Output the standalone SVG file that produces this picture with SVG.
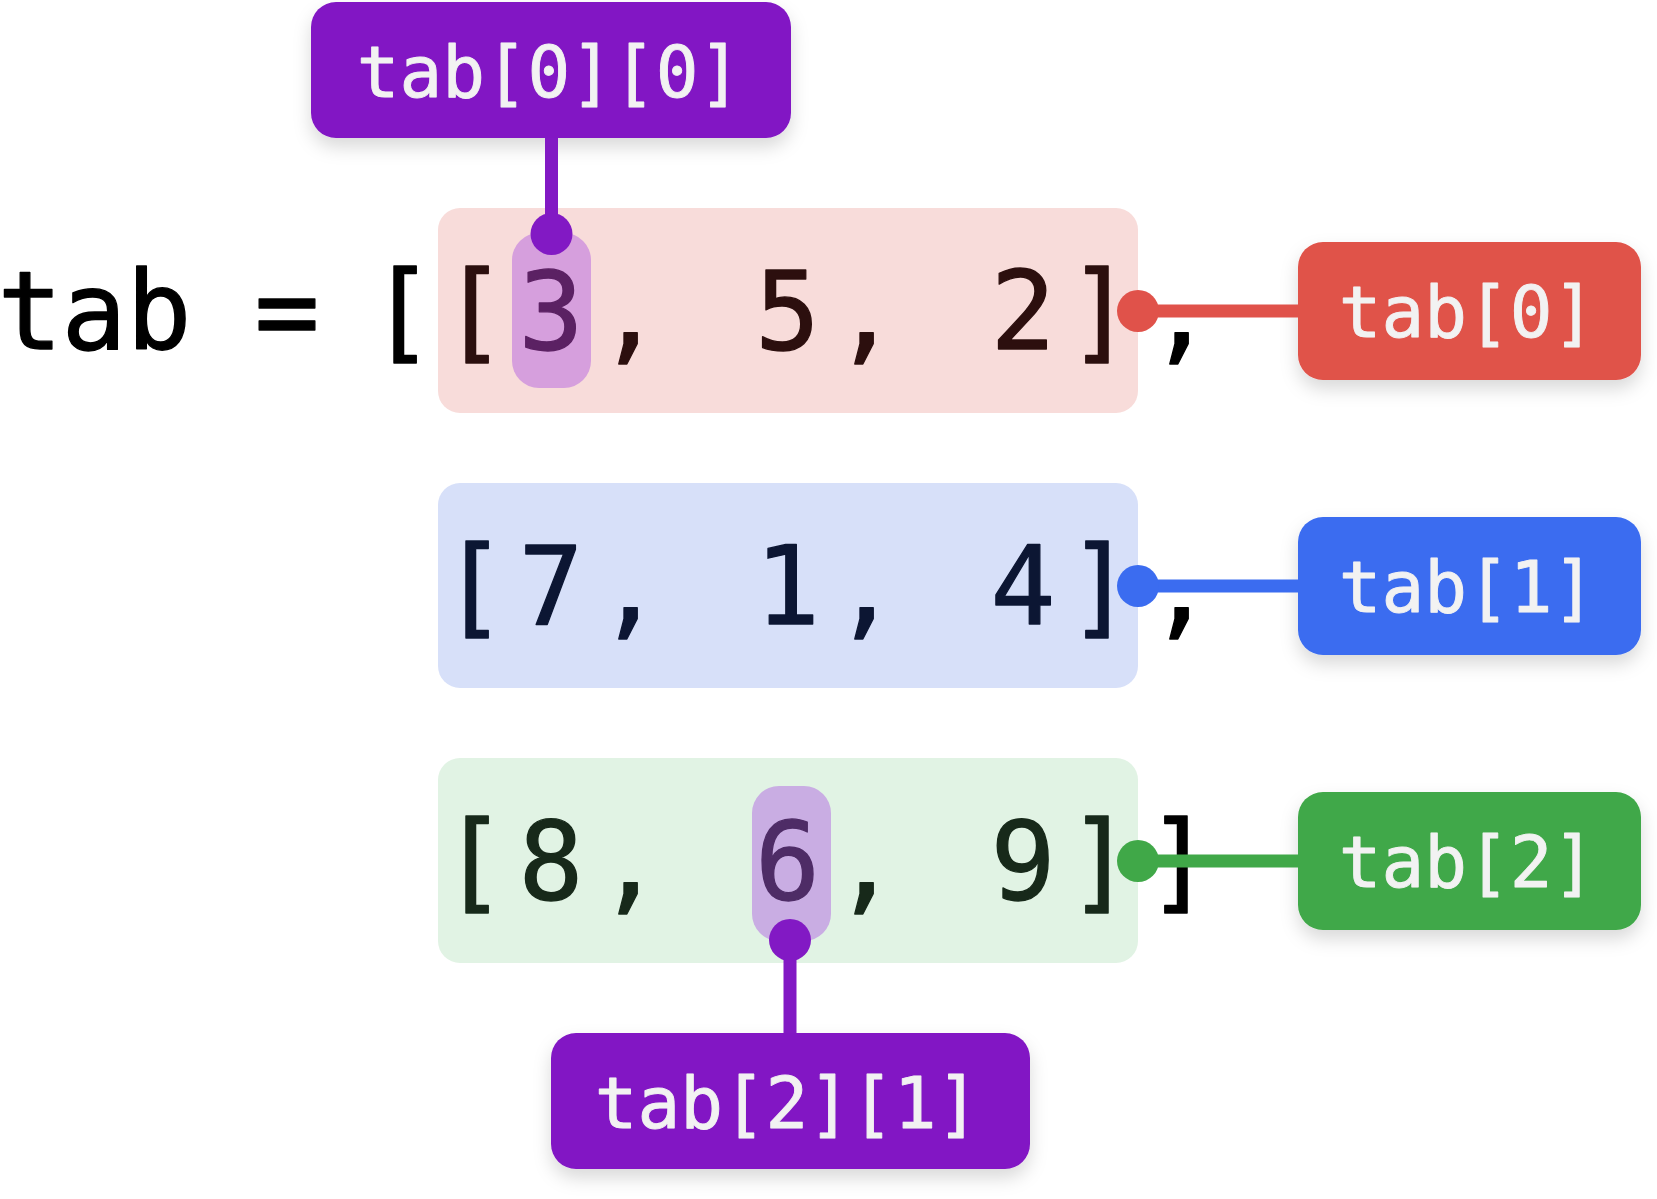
<svg xmlns="http://www.w3.org/2000/svg" width="1657" height="1199" viewBox="0 0 1657 1199">
  <defs>
    <filter id="shadow" x="-20%" y="-30%" width="140%" height="170%">
      <feDropShadow dx="0" dy="9" stdDeviation="9" flood-color="#000" flood-opacity="0.15"/>
    </filter>
    <style>
      .code { font-family: "DejaVu Sans Mono", "Liberation Mono", monospace; font-size: 108px; text-anchor: middle; stroke-width: 1.3px; stroke-linejoin: round; }
      .lbl { font-family: "DejaVu Sans Mono", "Liberation Mono", monospace; font-size: 71px; fill: #f2f2f2; stroke: #f2f2f2; stroke-width: 0.9px; stroke-linejoin: round; text-anchor: middle; }
      .outer { fill: #000; stroke: #000; }
      .r0 { fill: #2c0f0e; stroke: #2c0f0e; }
      .r1 { fill: #0c1633; stroke: #0c1633; }
      .r2 { fill: #17291a; stroke: #17291a; }
      .hl0 { fill: #5b2163; stroke: #5b2163; }
      .hl2 { fill: #4e2c66; stroke: #4e2c66; }
      .link { stroke-width: 13; fill: none; }
    </style>
  </defs>
  <rect width="1657" height="1199" fill="#ffffff"/>

  <!-- inner lists, one band per row -->
  <g id="row0">
    <rect x="438" y="208" width="700" height="205" rx="22" fill="#f8dcda"/>
    <rect x="512" y="233" width="79" height="155" rx="27" fill="#d69fdd"/>
    <text class="code r0" y="349"><tspan x="474">[</tspan><tspan x="551" class="hl0">3</tspan><tspan x="630">,</tspan><tspan x="787.5">5</tspan><tspan x="866">,</tspan><tspan x="1023">2</tspan><tspan x="1100">]</tspan></text>
  </g>
  <g id="row1">
    <rect x="438" y="483" width="700" height="205" rx="22" fill="#d7e0f9"/>
    <text class="code r1" y="624"><tspan x="474">[</tspan><tspan x="551">7</tspan><tspan x="630">,</tspan><tspan x="787.5">1</tspan><tspan x="866">,</tspan><tspan x="1023">4</tspan><tspan x="1100">]</tspan></text>
  </g>
  <g id="row2">
    <rect x="438" y="758" width="700" height="205" rx="22" fill="#e1f3e4"/>
    <rect x="752" y="786" width="79" height="155" rx="27" fill="#c9ade3"/>
    <text class="code r2" y="899"><tspan x="474">[</tspan><tspan x="551">8</tspan><tspan x="630">,</tspan><tspan x="787.5" class="hl2">6</tspan><tspan x="866">,</tspan><tspan x="1023">9</tspan><tspan x="1100">]</tspan></text>
  </g>

  <!-- outer list syntax -->
  <g id="outer">
    <text class="code outer" y="349"><tspan x="30">t</tspan><tspan x="94">a</tspan><tspan x="159">b</tspan><tspan x="287">=</tspan><tspan x="402">[</tspan></text>
    <text class="code outer" x="1181" y="349">,</text>
    <text class="code outer" x="1181" y="624">,</text>
    <text class="code outer" x="1179" y="899">]</text>
  </g>

  <!-- index labels -->
  <g id="label-00" filter="url(#shadow)">
    <rect x="311" y="2" width="480" height="136" rx="25" fill="#8219c4"/>
    <text class="lbl" x="549" y="97">tab[0][0]</text>
  </g>
  <g id="label-0" filter="url(#shadow)">
    <rect x="1298" y="242" width="343" height="138" rx="25" fill="#e0524a"/>
    <text class="lbl" x="1467" y="337">tab[0]</text>
  </g>
  <g id="label-1" filter="url(#shadow)">
    <rect x="1298" y="517" width="343" height="138" rx="25" fill="#3b6cf0"/>
    <text class="lbl" x="1467" y="612">tab[1]</text>
  </g>
  <g id="label-2" filter="url(#shadow)">
    <rect x="1298" y="792" width="343" height="138" rx="25" fill="#40a848"/>
    <text class="lbl" x="1467" y="887">tab[2]</text>
  </g>
  <g id="label-21" filter="url(#shadow)">
    <rect x="551" y="1033" width="479" height="136" rx="25" fill="#8219c4"/>
    <text class="lbl" x="787" y="1128">tab[2][1]</text>
  </g>

  <!-- connectors: dot on the element, line to its label -->
  <g id="connectors">
    <line class="link" x1="551.5" y1="138" x2="551.5" y2="234" stroke="#8219c4"/>
    <circle cx="551.5" cy="234" r="21" fill="#8219c4"/>
    <line class="link" x1="1138" y1="311" x2="1298" y2="311" stroke="#e0524a"/>
    <circle cx="1138" cy="311" r="21" fill="#e0524a"/>
    <line class="link" x1="1138" y1="586" x2="1298" y2="586" stroke="#3b6cf0"/>
    <circle cx="1138" cy="586" r="21" fill="#3b6cf0"/>
    <line class="link" x1="1138" y1="861" x2="1298" y2="861" stroke="#40a848"/>
    <circle cx="1138" cy="861" r="21" fill="#40a848"/>
    <line class="link" x1="790" y1="940" x2="790" y2="1033" stroke="#8219c4"/>
    <circle cx="790" cy="940" r="21" fill="#8219c4"/>
  </g>
</svg>
